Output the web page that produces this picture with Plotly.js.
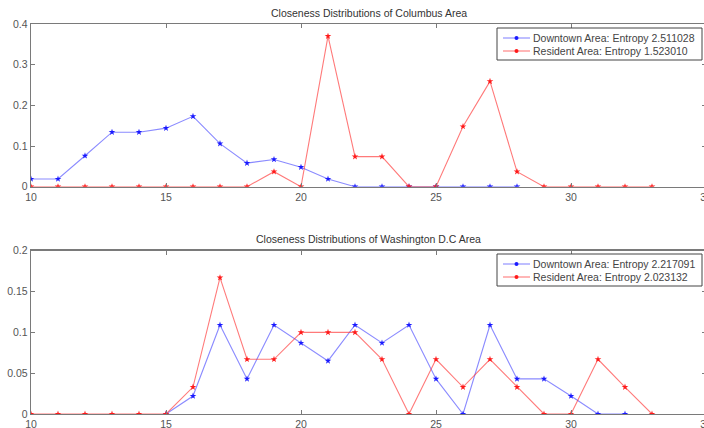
<!DOCTYPE html>
<html>
<head>
<meta charset="utf-8">
<script src="https://cdn.plot.ly/plotly-3.0.1.min.js"></script>
<style>html,body{margin:0;padding:0;overflow:hidden;background:#fff;}</style>
</head>
<body>
<div id="chart"></div>
<script>
// Columbus
const colDownX = [10,11,12,13,14,15,16,17,18,19,20,21,22,23,24,25,26,27,28];
const colDownY = [0.019,0.019,0.076,0.134,0.134,0.144,0.173,0.106,0.058,0.067,0.048,0.019,0,0,0,0,0,0,0];
const colResX = [10,11,12,13,14,15,16,17,18,19,20,21,22,23,24,25,26,27,28,29,30,31,32,33];
const colResY = [0,0,0,0,0,0,0,0,0,0.037,0,0.370,0.074,0.074,0,0,0.148,0.259,0.037,0,0,0,0,0];
// Washington D.C
const dcDownX = [15,16,17,18,19,20,21,22,23,24,25,26,27,28,29,30,31,32];
const dcDownY = [0,0.022,0.109,0.043,0.109,0.087,0.065,0.109,0.087,0.109,0.043,0,0.109,0.043,0.043,0.022,0,0];
const dcResX = [10,11,12,13,14,15,16,17,18,19,20,21,22,23,24,25,26,27,28,29,30,31,32,33];
const dcResY = [0,0,0,0,0,0,0.033,0.167,0.067,0.067,0.1,0.1,0.1,0.067,0,0.067,0.033,0.067,0.033,0,0,0.067,0.033,0];

const legendNames = [
  ['Downtown Area: Entropy 2.511028', 'Resident Area: Entropy 1.523010'],
  ['Downtown Area: Entropy 2.217091', 'Resident Area: Entropy 2.023132']
];
const titles = ['Closeness Distributions of Columbus Area', 'Closeness Distributions of Washington D.C Area'];

const blueLine = 'rgba(60,60,255,0.6)', blueMk = '#1a1aff';
const redLine = 'rgba(255,50,50,0.65)', redMk = '#ff1a1a';
const FONT = 'Liberation Sans, Arial, sans-serif';

function tr(x, y, name, lc, mc, xa, ya) {
  return {x: x, y: y, name: name, type: 'scatter', mode: 'lines+markers',
    xaxis: xa, yaxis: ya, showlegend: false,
    line: {color: lc, width: 1.1},
    marker: {symbol: 'star', size: 5, color: mc, line: {width: 0}}};
}

const data = [
  tr(colDownX, colDownY, legendNames[0][0], blueLine, blueMk, 'x', 'y'),
  tr(colResX, colResY, legendNames[0][1], redLine, redMk, 'x', 'y'),
  tr(dcDownX, dcDownY, legendNames[1][0], blueLine, blueMk, 'x2', 'y2'),
  tr(dcResX, dcResY, legendNames[1][1], redLine, redMk, 'x2', 'y2')
];

const H = 428, L = 31, PW = 675;
const px = v => (v - L) / PW;
const py = v => (H - v) / H;

const axCommon = {
  showline: true, mirror: 'allticks', linecolor: '#7a7a7a', linewidth: 1.3,
  ticks: 'inside', ticklen: 4, tickcolor: '#7a7a7a', tickwidth: 1,
  showgrid: false, zeroline: false,
  tickfont: {family: FONT, size: 10.5, color: '#555'}
};
const xBase = Object.assign({}, axCommon, {range: [10, 35], tickvals: [10,15,20,25,30,35], ticklabelstandoff: 0});

// manual legends (box, sample line, sample dot, text)
const shapes = [], annotations = [];
const legTops = [28, 254];
legTops.forEach((top, i) => {
  shapes.push({type: 'rect', xref: 'paper', yref: 'paper', x0: px(497), x1: px(702), y0: py(top), y1: py(top + 32),
    line: {color: '#444', width: 1}, fillcolor: '#fff', layer: 'above'});
  [[blueLine, blueMk], [redLine, redMk]].forEach((c, j) => {
    const cy = top + 10 + j * 13;
    shapes.push({type: 'line', xref: 'paper', yref: 'paper', x0: px(503), x1: px(530), y0: py(cy), y1: py(cy),
      line: {color: c[0], width: 1.1}, layer: 'above'});
    shapes.push({type: 'circle', xref: 'paper', yref: 'paper', xsizemode: 'pixel', ysizemode: 'pixel',
      xanchor: px(516.5), yanchor: py(cy), x0: -2, x1: 2, y0: -2, y1: 2,
      fillcolor: c[1], line: {width: 0}, layer: 'above'});
    annotations.push({text: legendNames[i][j], xref: 'paper', yref: 'paper', x: px(531), y: py(cy),
      xanchor: 'left', yanchor: 'middle', showarrow: false,
      font: {family: FONT, size: 10.5, color: '#444'}});
  });
});
annotations.push(
  {text: titles[0], xref: 'paper', yref: 'paper', x: 0.5, y: py(13), xanchor: 'center', yanchor: 'middle', showarrow: false,
   font: {family: FONT, size: 10.5, color: '#333'}},
  {text: titles[1], xref: 'paper', yref: 'paper', x: 0.5, y: py(239), xanchor: 'center', yanchor: 'middle', showarrow: false,
   font: {family: FONT, size: 10.5, color: '#333'}}
);

const layout = {
  width: 712, height: H,
  margin: {l: L, r: 712 - L - PW, t: 0, b: 0},
  paper_bgcolor: '#fff', plot_bgcolor: '#fff',
  showlegend: false,
  xaxis: Object.assign({}, xBase, {anchor: 'y'}),
  xaxis2: Object.assign({}, xBase, {anchor: 'y2'}),
  yaxis: Object.assign({}, axCommon, {domain: [py(186.7), py(24)], range: [0, 0.4], dtick: 0.1, anchor: 'x'}),
  yaxis2: Object.assign({}, axCommon, {domain: [py(414), py(250.7)], range: [0, 0.2], dtick: 0.05, anchor: 'x2'}),
  shapes: shapes,
  annotations: annotations
};

Plotly.newPlot('chart', data, layout, {displayModeBar: false, staticPlot: true});
</script>
</body>
</html>
